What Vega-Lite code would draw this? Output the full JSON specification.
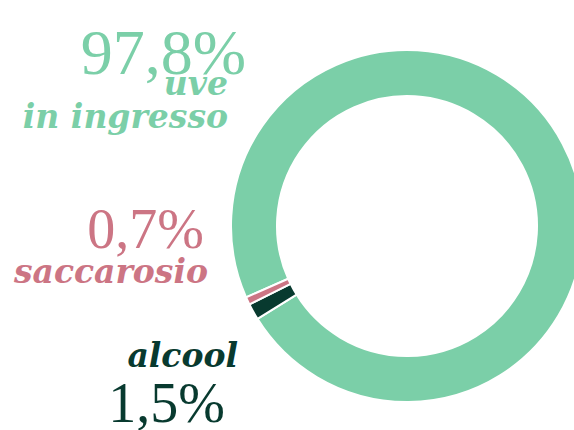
{
  "$schema": "https://vega.github.io/schema/vega-lite/v6.json",
  "width": 334,
  "height": 408,
  "autosize": "none",
  "padding": {"left": 240, "top": 22, "right": 0, "bottom": 0},
  "background": "white",
  "config": {"view": {"stroke": null}},
  "data": {
    "values": [
      {"cat": "uve", "value": 97.8, "pct": "97,8%", "label": "uve\nin ingresso"},
      {"cat": "alcool", "value": 1.5, "pct": "1,5%", "label": "alcool"},
      {"cat": "saccarosio", "value": 0.7, "pct": "0,7%", "label": "saccarosio"}
    ]
  },
  "layer": [
    {
      "mark": {"type": "arc", "radius": 176, "radius2": 130, "stroke": "white", "strokeWidth": 2},
      "encoding": {
        "theta": {"field": "value", "type": "quantitative", "stack": true, "scale": {"range": [4.295, 10.578]}},
        "order": {"field": "value", "sort": "descending"},
        "color": {"field": "cat", "type": "nominal", "legend": null,
          "scale": {"domain": ["uve", "alcool", "saccarosio"], "range": ["#7bcfa8", "#083a2f", "#cc7584"]}}
      }
    },
    {
      "mark": {"type": "text", "align": "right", "baseline": "alphabetic", "font": "Liberation Serif", "fontSize": 64},
      "encoding": {
        "text": {"field": "pct"},
        "x": {"field": "cat", "type": "nominal", "axis": null,
          "scale": {"type": "point", "domain": ["saccarosio", "alcool", "uve"], "range": [-36, 6], "padding": 0}},
        "y": {"field": "cat", "type": "nominal", "axis": null,
          "scale": {"type": "point", "domain": ["uve", "saccarosio", "alcool"], "range": [52, 400], "padding": 0}},
        "color": {"field": "cat", "type": "nominal", "legend": null}
      },
      "transform": [{"filter": "datum.cat === 'uve'"}]
    },
    {
      "mark": {"type": "text", "align": "right", "baseline": "alphabetic", "font": "Liberation Serif", "fontSize": 56},
      "encoding": {
        "text": {"field": "pct"},
        "x": {"field": "cat", "type": "nominal", "axis": null},
        "y": {"field": "cat", "type": "nominal", "axis": null},
        "color": {"field": "cat", "type": "nominal", "legend": null}
      },
      "transform": [{"filter": "datum.cat !== 'uve'"}]
    },
    {
      "mark": {"type": "text", "align": "right", "baseline": "alphabetic", "font": "DejaVu Serif", "fontSize": 33, "fontStyle": "italic", "fontWeight": "bold", "lineBreak": "\n", "lineHeight": 33, "dx": -18, "dy": 21},
      "encoding": {
        "text": {"field": "label"},
        "x": {"field": "cat", "type": "nominal", "axis": null},
        "y": {"field": "cat", "type": "nominal", "axis": null},
        "color": {"field": "cat", "type": "nominal", "legend": null}
      },
      "transform": [{"filter": "datum.cat === 'uve'"}]
    },
    {
      "mark": {"type": "text", "align": "right", "baseline": "alphabetic", "font": "DejaVu Serif", "fontSize": 33, "fontStyle": "italic", "fontWeight": "bold", "dx": 4, "dy": 35},
      "encoding": {
        "text": {"field": "label"},
        "x": {"field": "cat", "type": "nominal", "axis": null},
        "y": {"field": "cat", "type": "nominal", "axis": null},
        "color": {"field": "cat", "type": "nominal", "legend": null}
      },
      "transform": [{"filter": "datum.cat === 'saccarosio'"}]
    },
    {
      "mark": {"type": "text", "align": "right", "baseline": "alphabetic", "font": "DejaVu Serif", "fontSize": 33, "fontStyle": "italic", "fontWeight": "bold", "dx": 13, "dy": -55},
      "encoding": {
        "text": {"field": "label"},
        "x": {"field": "cat", "type": "nominal", "axis": null},
        "y": {"field": "cat", "type": "nominal", "axis": null},
        "color": {"field": "cat", "type": "nominal", "legend": null}
      },
      "transform": [{"filter": "datum.cat === 'alcool'"}]
    }
  ]
}
